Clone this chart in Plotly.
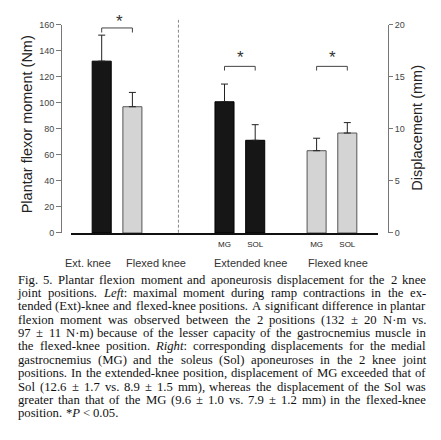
import plotly.graph_objects as go

# The page body keeps its default 8px margin, so the figure is drawn 8px in from
# the window's corner; size it to fit and place things in window pixels.
OFF = 8
W, H = 441 - 2 * OFF, 440 - 2 * OFF

# ---------------- data ----------------
moment_groups = ["Ext. knee", "Flexed knee"]
moment_mean = [132, 97]
moment_sd = [20, 11]

disp_groups = ["Extended knee", "Flexed knee"]
disp_muscles = ["MG", "SOL"]
disp_ext_mean = [12.6, 8.9]
disp_ext_sd = [1.7, 1.5]
disp_flex_mean = [7.9, 9.6]
disp_flex_sd = [1.2, 1.0]

moment_ticks = [0, 20, 40, 60, 80, 100, 120, 140, 160]
disp_ticks = [0, 5, 10, 15, 20]

caption_lines = [
    "Fig. 5. Plantar flexion moment and aponeurosis displacement for the 2 knee",
    "joint positions. <i>Left</i>: maximal moment during ramp contractions in the ex-",
    "tended (Ext)-knee and flexed-knee positions. A significant difference in plantar",
    "flexion moment was observed between the 2 positions (132 ± 20 N·m vs.",
    "97 ± 11 N·m) because of the lesser capacity of the gastrocnemius muscle in",
    "the flexed-knee position. <i>Right</i>: corresponding displacements for the medial",
    "gastrocnemius (MG) and the soleus (Sol) aponeuroses in the 2 knee joint",
    "positions. In the extended-knee position, displacement of MG exceeded that of",
    "Sol (12.6 ± 1.7 vs. 8.9 ± 1.5 mm), whereas the displacement of the Sol was",
    "greater than that of the MG (9.6 ± 1.0 vs. 7.9 ± 1.2 mm) in the flexed-knee",
    "position. *<i>P</i> &lt; 0.05.",
]

# ---------------- layout helpers (window pixels -> paper) ----------------
def px(x):
    return (x - OFF) / W

def py(y):
    return 1 - (y - OFF) / H

moment_pos = [1, 2]
ext_pos = [5, 6]
flex_pos = [8, 9]
BAR_W = 0.62
BLACK = "#161616"
GRAY = "#d4d4d4"
SANS = "Arial, Liberation Sans, sans-serif"
SERIF = "Liberation Serif, Times New Roman, serif"

err_common = dict(type="data", symmetric=False, thickness=1, width=3.5, color="#222")

fig = go.Figure()
fig.add_trace(go.Bar(x=[moment_pos[0]], y=[moment_mean[0]], width=BAR_W,
                     marker=dict(color=BLACK, line=dict(color="#000", width=1)),
                     error_y=dict(array=[moment_sd[0]], arrayminus=[0], **err_common),
                     yaxis="y", showlegend=False))
fig.add_trace(go.Bar(x=[moment_pos[1]], y=[moment_mean[1]], width=BAR_W,
                     marker=dict(color=GRAY, line=dict(color="#555", width=1)),
                     error_y=dict(array=[moment_sd[1]], arrayminus=[0], **err_common),
                     yaxis="y", showlegend=False))
fig.add_trace(go.Bar(x=ext_pos, y=disp_ext_mean, width=BAR_W,
                     marker=dict(color=BLACK, line=dict(color="#000", width=1)),
                     error_y=dict(array=disp_ext_sd, arrayminus=[0, 0], **err_common),
                     yaxis="y2", showlegend=False))
fig.add_trace(go.Bar(x=flex_pos, y=disp_flex_mean, width=BAR_W,
                     marker=dict(color=GRAY, line=dict(color="#555", width=1)),
                     error_y=dict(array=disp_flex_sd, arrayminus=[0, 0], **err_common),
                     yaxis="y2", showlegend=False))

y_bottom, y_top = 233.3, 20
fig.update_layout(
    width=W, height=H, margin=dict(l=0, r=0, t=0, b=0),
    paper_bgcolor="white", plot_bgcolor="white", barmode="overlay",
    xaxis=dict(domain=[px(71), px(378)], range=[0, 10], showline=True,
               linecolor="#111", linewidth=2, showgrid=False, zeroline=False,
               tickmode="array", tickvals=ext_pos + flex_pos,
               ticktext=disp_muscles + disp_muscles, ticks="", ticklabelstandoff=2,
               tickfont=dict(family=SANS, size=8, color="#222")),
    yaxis=dict(domain=[py(y_bottom), py(y_top)], range=[0, 160], anchor="free",
               position=px(61), showline=True, linecolor="#777", linewidth=1,
               ticks="outside", ticklen=5, tickcolor="#777", tickwidth=1,
               tickmode="array", tickvals=moment_ticks, showgrid=False, zeroline=False,
               tickfont=dict(family=SANS, size=9, color="#444")),
    yaxis2=dict(domain=[py(y_bottom), py(y_top)], range=[0, 20], overlaying="y",
                side="right", anchor="free", position=px(388), showline=True,
                linecolor="#777", linewidth=1, ticks="outside", ticklen=4,
                tickcolor="#777", tickwidth=1, tickmode="array", tickvals=disp_ticks,
                showgrid=False, zeroline=False,
                tickfont=dict(family=SANS, size=9, color="#444")),
)

shapes = []
# dashed separator
shapes.append(dict(type="line", xref="x", yref="paper", x0=3.5, x1=3.5,
                   y0=py(233), y1=py(15), line=dict(color="#888", width=1, dash="3px,2px")))
# significance brackets
def bracket(x0, x1, ytop, yleg, yref):
    return dict(type="path", xref="x", yref=yref,
                path=f"M {x0},{yleg} L {x0},{ytop} L {x1},{ytop} L {x1},{yleg}",
                line=dict(color="#444", width=1))
shapes.append(bracket(moment_pos[0], moment_pos[1], 157.5, 154, "y"))
shapes.append(bracket(ext_pos[0], ext_pos[1], 16.0, 15.6, "y2"))
shapes.append(bracket(flex_pos[0], flex_pos[1], 16.0, 15.6, "y2"))
fig.update_layout(shapes=shapes)

def label(text, x, y, size, family=SANS, color="#333", angle=0):
    return dict(text=text, x=px(x), y=py(y), xref="paper", yref="paper",
                xanchor="center", yanchor="middle", showarrow=False, textangle=angle,
                borderpad=0, borderwidth=0,
                font=dict(family=family, size=size, color=color))

ann = []
for xc, yc in [(119, 16.2), (240.7, 53.7), (332.7, 53.7)]:
    ann.append(label("*", xc, yc, 17))
# axis titles
ann.append(label("Plantar flexor moment (Nm)", 27, 122, 14.5, color="#222", angle=-90))
ann.append(label("Displacement (mm)", 417, 125.5, 14.5, color="#222", angle=-90))
# group labels
for lab, xc in zip(moment_groups + disp_groups, [87.7, 155.5, 250.5, 338]):
    ann.append(label(lab, xc, 264.5, 11))

# ---------------- caption (justified, word by word) ----------------
TIMES = {' ': 250, '!': 333, '(': 333, ')': 333, '*': 500, '+': 564, ',': 250, '-': 333,
         '.': 250, '/': 278, ':': 278, ';': 278, '<': 564, '=': 564, '>': 564, '±': 564,
         '·': 250, 'A': 722, 'B': 667, 'C': 667, 'D': 722, 'E': 611, 'F': 556, 'G': 722,
         'H': 722, 'I': 333, 'J': 389, 'K': 722, 'L': 611, 'M': 889, 'N': 722, 'O': 722,
         'P': 556, 'Q': 722, 'R': 667, 'S': 556, 'T': 611, 'U': 722, 'V': 722, 'W': 944,
         'X': 722, 'Y': 722, 'Z': 611, 'a': 444, 'b': 500, 'c': 444, 'd': 500, 'e': 444,
         'f': 333, 'g': 500, 'h': 500, 'i': 278, 'j': 278, 'k': 500, 'l': 278, 'm': 778,
         'n': 500, 'o': 500, 'p': 500, 'q': 500, 'r': 333, 's': 389, 't': 278, 'u': 500,
         'v': 500, 'w': 722, 'x': 500, 'y': 500, 'z': 444}
ITALIC = {'L': 556, 'e': 444, 'f': 278, 't': 278, 'R': 611, 'i': 278, 'g': 500,
          'h': 500, 'P': 611}

def word_width(word, fs):
    w, it, i = 0, False, 0
    while i < len(word):
        if word.startswith("<i>", i):
            it = True; i += 3; continue
        if word.startswith("</i>", i):
            it = False; i += 4; continue
        if word.startswith("&lt;", i):
            ch = "<"; i += 4
        else:
            ch = word[i]; i += 1
        tbl = ITALIC if (it and ch in ITALIC) else TIMES
        w += tbl.get(ch, 500)
    return w * fs / 1000

FS = 12.7
LEFT, RIGHT = 18.3, 426
Y0, DY = 281, 13.7
for li, line in enumerate(caption_lines):
    words = line.split(" ")
    widths = [word_width(wd, FS) for wd in words]
    last = li == len(caption_lines) - 1
    if last or len(words) < 2:
        gap = 0.25 * FS
    else:
        gap = (RIGHT - LEFT - sum(widths)) / (len(words) - 1)
    x = LEFT
    yc = Y0 + li * DY
    for wd, ww in zip(words, widths):
        ann.append(label(wd, x + ww / 2, yc, FS, family=SERIF, color="#111"))
        x += ww + gap

fig.update_layout(annotations=ann)
fig.write_html("out.html")
